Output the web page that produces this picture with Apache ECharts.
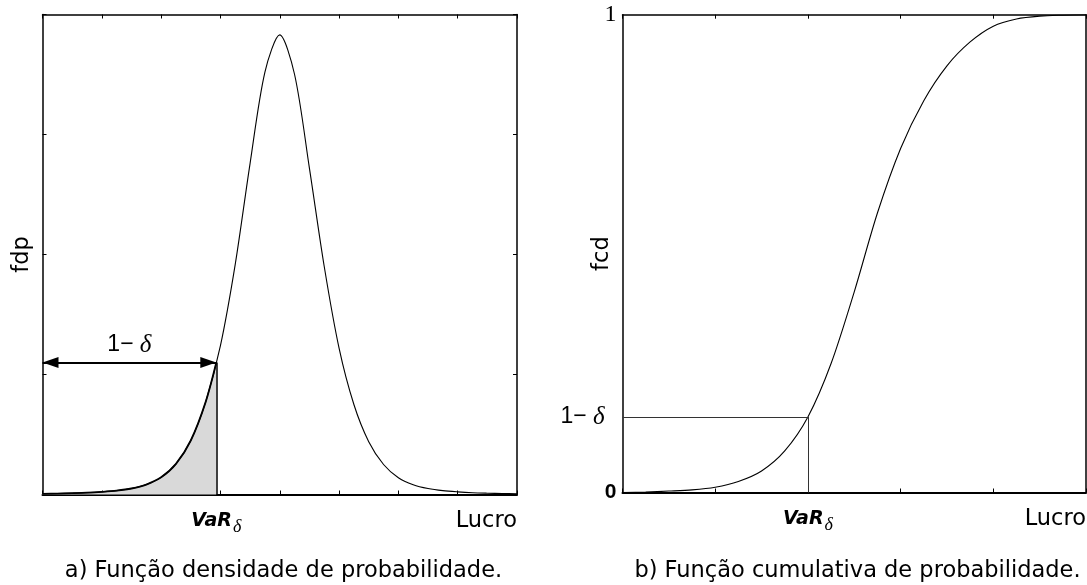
<!DOCTYPE html>
<html><head><meta charset="utf-8">
<script src="https://cdn.jsdelivr.net/npm/echarts@6/dist/echarts.min.js"></script>
<style>html,body{margin:0;padding:0;background:#fff}#c{width:1087px;height:585px}</style>
</head><body><div id="c"></div>
<script>
// ---- data ----
const pdfX = [0,0.25,0.5,0.75,1,1.25,1.5,1.75,2,2.25,2.5,2.75,3,3.25,3.5,3.75,4,4.25,4.5,4.75,5,5.25,5.5,5.75,6,6.25,6.5,6.75,7,7.25,7.5,7.75,8];
const pdfY = [0.006,0.008,0.011,0.015,0.022,0.032,0.05,0.083,0.143,0.255,0.45,0.77,1.24,1.92,2.76,3.52,3.83,3.50,2.72,1.90,1.22,0.75,0.44,0.25,0.14,0.082,0.05,0.032,0.022,0.015,0.011,0.008,0.006];
const pdfVaR = 2.93;      // VaR position on the density chart
const pdfVaRY = 1.10;     // density at VaR (also height of the 1-δ arrow)
const pdfXRange = [0, 8];
const pdfYRange = [0, 4];

const cdfX = [0,0.25,0.5,0.75,1,1.25,1.5,1.75,2,2.25,2.5,2.75,3,3.25,3.5,3.75,4,4.25,4.5,4.75,5];
const cdfY = [0,0.001,0.003,0.0055,0.011,0.023,0.045,0.087,0.158,0.27,0.42,0.585,0.72,0.82,0.893,0.943,0.976,0.991,0.997,0.999,1.0];
const cdfVaR = 2.0;
const cdfLevel = 0.158;   // 1-δ
const cdfXRange = [0, 5];
const cdfYRange = [0, 1];

const captions = ['a) Função densidade de probabilidade.', 'b) Função cumulativa de probabilidade.'];
const yNames = ['fdp', 'fcd'];
const xName = 'Lucro';
// --------------------------------------

const SANS = '"DejaVu Sans"';
const SMOOTH = 0.3;
const pdfData = pdfX.map((x, i) => [x, pdfY[i]]);
const tailData = pdfData.filter(p => p[0] < pdfVaR).concat([[pdfVaR, pdfVaRY]]);
const cdfData = cdfX.map((x, i) => [x, cdfY[i]]);

const varRich = {
  v: {fontFamily: SANS, fontStyle: 'italic', fontWeight: 'bold', fontSize: 19, color: '#000'},
  s: {fontFamily: '"Liberation Serif"', fontStyle: 'italic', fontSize: 18, color: '#000', padding: [12, 0, 0, 1]}
};
const deltaRich = {
  a: {fontFamily: '"Liberation Sans"', fontSize: 23, color: '#000'},
  d: {fontFamily: '"Liberation Serif"', fontStyle: 'italic', fontSize: 25, color: '#000'}
};

function frameAxis(grid, pos, range, width, extra) {
  return Object.assign({
    type: 'value', gridIndex: grid, position: pos, min: range[0], max: range[1], interval: 1,
    axisLine: {show: true, onZero: false, lineStyle: {color: '#000', width: width}},
    axisTick: {show: true, inside: true, length: 4, lineStyle: {color: '#000', width: 1}},
    axisLabel: {show: false}, splitLine: {show: false}
  }, extra || {});
}
const nameStyle = {fontFamily: SANS, fontSize: 22.5, color: '#000', align: 'right', verticalAlign: 'top', padding: [15, 0, 0, 0]};

const option = {
  animation: false,
  backgroundColor: '#fff',
  grid: [
    {left: 42.5, right: 570, top: 14.5, bottom: 90.5, outerBoundsMode: 'none'},
    {left: 622.5, right: 1, top: 14.7, bottom: 92.5, outerBoundsMode: 'none'}
  ],
  xAxis: [
    frameAxis(0, 'bottom', pdfXRange, 2, {
      axisLabel: {show: true, customValues: [pdfVaR], margin: 12, formatter: () => '{v|VaR}{s|δ}', rich: varRich},
      name: xName, nameLocation: 'end', nameGap: 0, nameTextStyle: nameStyle
    }),
    frameAxis(0, 'top', pdfXRange, 1.5),
    frameAxis(1, 'bottom', cdfXRange, 2, {
      axisLabel: {show: true, customValues: [cdfVaR], margin: 12, formatter: () => '{v|VaR}{s|δ}', rich: varRich},
      name: xName, nameLocation: 'end', nameGap: 0, nameTextStyle: nameStyle
    }),
    frameAxis(1, 'top', cdfXRange, 1.5)
  ],
  yAxis: [
    frameAxis(0, 'left', pdfYRange, 1.5, {
      name: yNames[0], nameLocation: 'middle', nameGap: 9, nameRotate: 90, nameMoveOverlap: false,
      nameTextStyle: {fontFamily: SANS, fontSize: 22.5, color: '#000'}
    }),
    frameAxis(0, 'right', pdfYRange, 1.5),
    frameAxis(1, 'left', cdfYRange, 1.5, {
      axisTick: {show: false},
      axisLabel: {
        show: true, customValues: [cdfYRange[0], cdfLevel, cdfYRange[1]], margin: 6,
        formatter: v => v === cdfYRange[0] ? '{z|0}' : (v === cdfYRange[1] ? '{o|1}' : '{a|1−}{d| δ}'),
        rich: {
          z: {fontFamily: '"Liberation Sans"', fontWeight: 'bold', fontSize: 21, color: '#000'},
          o: {fontFamily: '"Liberation Serif"', fontSize: 24, color: '#000'},
          a: {fontFamily: '"Liberation Sans"', fontSize: 23, color: '#000'},
          d: {fontFamily: '"Liberation Serif"', fontStyle: 'italic', fontSize: 25, color: '#000', padding: [0, 12, 0, 0]}
        }
      },
      name: yNames[1], nameLocation: 'middle', nameGap: 9, nameRotate: 90, nameMoveOverlap: false,
      nameTextStyle: {fontFamily: SANS, fontSize: 22.5, color: '#000'}
    }),
    frameAxis(1, 'right', cdfYRange, 1.5, {axisTick: {show: false}})
  ],
  series: [
    {
      type: 'line', xAxisIndex: 0, yAxisIndex: 0, data: tailData, smooth: SMOOTH,
      showSymbol: false, silent: true, z: 2,
      lineStyle: {color: '#000', width: 1.8},
      areaStyle: {color: '#d9d9d9', opacity: 1},
      markLine: {
        silent: true, symbol: ['none', 'none'], label: {show: false},
        lineStyle: {color: '#000', width: 1.5, type: 'solid'},
        data: [[{coord: [pdfVaR, 0]}, {coord: [pdfVaR, pdfVaRY]}]]
      }
    },
    {
      type: 'line', xAxisIndex: 0, yAxisIndex: 0, data: pdfData, smooth: SMOOTH,
      showSymbol: false, silent: true, z: 3,
      lineStyle: {color: '#000', width: 1.1},
      markLine: {
        silent: true, symbol: ['triangle', 'triangle'], symbolSize: [11, 16], symbolOffset: [[0, 8], [0, 8]],
        lineStyle: {color: '#000', width: 2.2, type: 'solid'},
        label: {show: true, position: 'insideMiddleTop', distance: 5,
          formatter: '{a|1−}{d| δ}', rich: deltaRich},
        data: [[{coord: [pdfXRange[0], pdfVaRY]}, {coord: [pdfVaR, pdfVaRY]}]]
      }
    },
    {
      type: 'line', xAxisIndex: 2, yAxisIndex: 2, data: cdfData, smooth: SMOOTH,
      showSymbol: false, silent: true,
      lineStyle: {color: '#000', width: 1.1},
      markLine: {
        silent: true, symbol: ['none', 'none'], label: {show: false},
        lineStyle: {color: '#333', width: 1, type: 'solid'},
        data: [
          [{coord: [cdfXRange[0], cdfLevel]}, {coord: [cdfVaR, cdfLevel]}],
          [{coord: [cdfVaR, 0]}, {coord: [cdfVaR, cdfLevel]}]
        ]
      }
    }
  ],
  graphic: [
    {type: 'text', x: 283.5, y: 571, silent: true,
      style: {text: captions[0], fontFamily: 'DejaVu Sans', fontSize: 22.5, fill: '#000', align: 'center', verticalAlign: 'middle', textAlign: 'center', textVerticalAlign: 'middle'}},
    {type: 'text', x: 857.5, y: 571, silent: true,
      style: {text: captions[1], fontFamily: 'DejaVu Sans', fontSize: 22.5, fill: '#000', align: 'center', verticalAlign: 'middle', textAlign: 'center', textVerticalAlign: 'middle'}}
  ]
};
const chart = echarts.init(document.getElementById('c'), null, {renderer: 'canvas'});
chart.setOption(option);
</script></body></html>
